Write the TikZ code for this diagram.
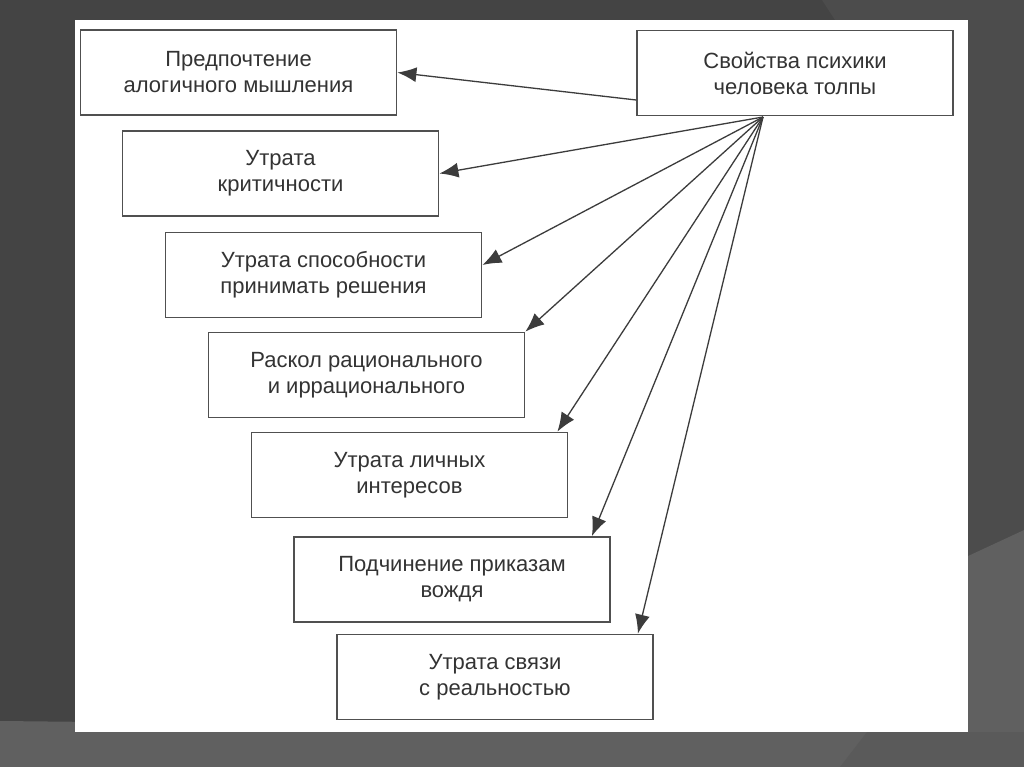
\documentclass[tikz,border=0pt]{standalone}
\usepackage{fontspec}
\setmainfont{Liberation Sans}
\usetikzlibrary{arrows.meta,calc}
\definecolor{bgdark}{HTML}{444444}
\definecolor{bgtr}{HTML}{4C4C4C}
\definecolor{bglight}{HTML}{606060}
\definecolor{bgbr}{HTML}{5A5A5A}
\definecolor{boxline}{HTML}{505050}
\definecolor{txt}{HTML}{333333}
\definecolor{arr}{HTML}{3C3C3C}
\tikzset{
  box/.style={draw=boxline, line width=1.8pt, fill=white, minimum width=316pt, minimum height=85pt,
    align=center, text=txt, font=\fontsize{22}{26}\selectfont, inner sep=0pt},
  conn/.style={draw=arr, line width=1.3pt, -{Latex[length=19pt,width=15pt]}}
}
\begin{document}
\begin{tikzpicture}[x=1pt,y=-1pt]
\useasboundingbox (0,0) rectangle (1024,767);
% background
\fill[bgdark] (0,0) rectangle (1024,767);
\fill[bgtr] (822,0) -- (1024,0) -- (1024,530) -- (968,556) -- (968,20) -- (835,20) -- cycle;
\fill[bglight] (0,721) -- (968,731) -- (968,556) -- (1024,530) -- (1024,767) -- (0,767) -- cycle;
\fill[bgbr] (867,732) -- (1024,732) -- (1024,767) -- (840,767) -- cycle;
% slide
\fill[white] (75,20) rectangle (968,732);
% boxes
\node[box] (b1) at (238.5,72.5) {Предпочтение\\алогичного мышления};
\node[box] (b2) at (795,73) {Свойства психики\\человека толпы};
\node[box] (b3) at (280.5,173.5) {Утрата\\критичности};
\node[box] (b4) at (323.5,275) {Утрата способности\\принимать решения};
\node[box] (b5) at (366.5,375) {Раскол рационального\\и иррационального};
\node[box] (b6) at (409.5,475) {Утрата личных\\интересов};
\node[box] (b7) at (452,579.5) {Подчинение приказам\\вождя};
\node[box] (b8) at (495,677) {Утрата связи\\с реальностью};
\coordinate (hub) at (763,117);
% connectors
\draw[conn] ([yshift=-27pt]b2.west) -- (b1.east);
\draw[conn] (hub) -- (b3.east);
\draw[conn] (hub) -- ([yshift=10pt]b4.east);
\draw[conn] (hub) -- (b5.north east);
\draw[conn] (hub) -- ([xshift=-11pt]b6.north east);
\draw[conn] (hub) -- ([xshift=-19pt]b7.north east);
\draw[conn] (hub) -- ([xshift=-16pt]b8.north east);
\end{tikzpicture}
\end{document}
